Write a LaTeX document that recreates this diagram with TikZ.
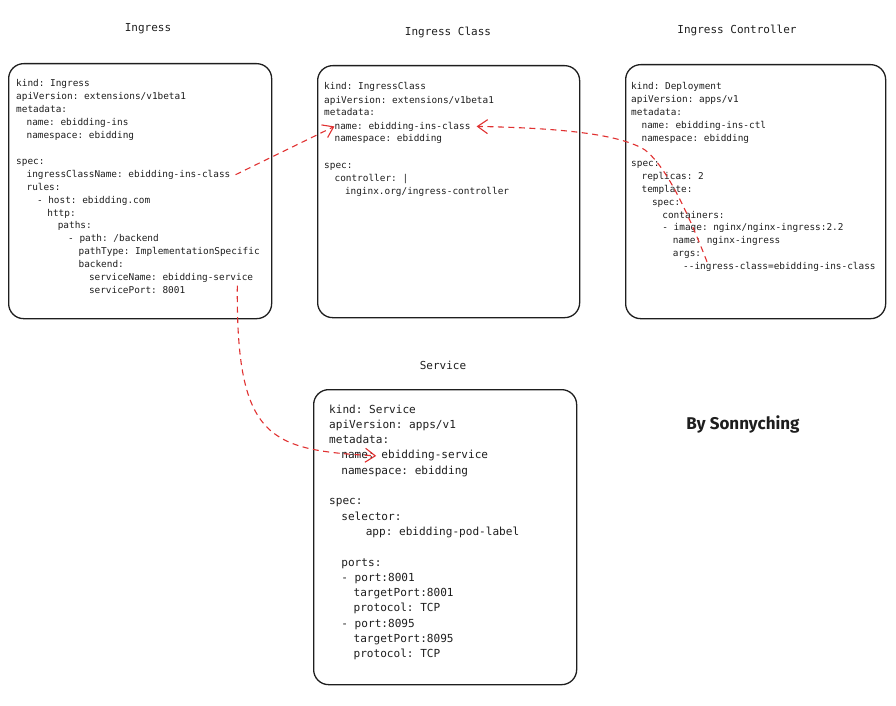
\documentclass[tikz,border=0pt]{standalone}
\usepackage{fontspec}
\setmonofont{DejaVu Sans Mono}
\newfontfamily\signfont{Fira Sans}
\usetikzlibrary{arrows.meta}
\definecolor{ink}{HTML}{1E1E1E}
\definecolor{lred}{HTML}{E03131}
\tikzset{
  box/.style={draw=ink, line width=1.3pt, rounded corners=15pt, anchor=north west, inner sep=0pt},
  code/.style={font=\ttfamily\fontsize{9.4}{11}\selectfont, text=ink, inner sep=0pt, anchor=base west},
  scode/.style={font=\ttfamily\fontsize{11.08}{13}\selectfont, text=ink, inner sep=0pt, anchor=base west},
  ttl/.style={font=\ttfamily\fontsize{11}{13}\selectfont, text=ink, inner sep=0pt},
  link/.style={draw=lred, line width=1.1pt, dash pattern=on 6pt off 4.5pt,
    -{Straight Barb[length=10pt,width=14pt,line width=1.1pt]}},
}
\begin{document}
\begin{tikzpicture}[x=1pt,y=-1pt]
\useasboundingbox (0,0) rectangle (896,706);
% titles
\node[ttl] (t1) at (148,29) {Ingress};
\node[ttl] (t2) at (448,32) {Ingress Class};
\node[ttl] (t3) at (737,30) {Ingress Controller};
\node[ttl] (t4) at (443,365) {Service};
\node[font=\signfont\bfseries\fontsize{17}{20}\selectfont, text=ink] (sign) at (743,424) {By Sonnyching};
% boxes
\node[box, minimum width=263pt, minimum height=255pt] (ingbox) at (8,63) {};
\node[box, minimum width=262pt, minimum height=252pt] (clsbox) at (317,65) {};
\node[box, minimum width=260pt, minimum height=254pt] (ctlbox) at (625,64) {};
\node[box, minimum width=263pt, minimum height=295pt] (svcbox) at (313,389) {};
% Ingress text
\foreach \r/\k/\t in {1/0/{kind: Ingress},2/0/{apiVersion: extensions/v1beta1},3/0/{metadata:},
  4/1/{name: ebidding-ins},5/1/{namespace: ebidding},7/0/{spec:},
  8/1/{ingressClassName: ebidding-ins-class},9/1/{rules:},10/2/{- host: ebidding.com},
  11/3/{http:},12/4/{paths:},13/5/{- path: /backend},14/6/{pathType: ImplementationSpecific},
  15/6/{backend:},16/7/{serviceName: ebidding-service},17/7/{servicePort: 8001}}
  \node[code] (ig\r) at ({16+\k*10.4},{87+(\r-1)*12.9}) {\t};
% Ingress Class text
\foreach \r/\k/\t in {1/0/{kind: IngressClass},2/0/{apiVersion: extensions/v1beta1},3/0/{metadata:},
  4/1/{name: ebidding-ins-class},5/1/{namespace: ebidding},7/0/{spec:},
  8/1/{controller: |},9/2/{inginx.org/ingress-controller}}
  \node[code] (cl\r) at ({324+\k*10.4},{90+(\r-1)*13}) {\t};
% Ingress Controller text
\foreach \r/\k/\t in {1/0/{kind: Deployment},2/0/{apiVersion: apps/v1},3/0/{metadata:},
  4/1/{name: ebidding-ins-ctl},5/1/{namespace: ebidding},7/0/{spec:},
  8/1/{replicas: 2},9/1/{template:},10/2/{spec:},11/3/{containers:},
  12/3/{- image: nginx/nginx-ingress:2.2},13/4/{name: nginx-ingress},14/4/{args:},
  15/5/{{-}{-}ingress-class=ebidding-ins-class}}
  \node[code] (ct\r) at ({631+\k*10.4},{90+(\r-1)*12.8}) {\t};
% Service text
\foreach \r/\k/\t in {1/0/{kind: Service},2/0/{apiVersion: apps/v1},3/0/{metadata:},
  4/1/{name: ebidding-service},5/1/{namespace: ebidding},7/0/{spec:},
  8/1/{selector:},9/3/{app: ebidding-pod-label},11/1/{ports:},
  12/1/{- port:8001},13/2/{targetPort:8001},14/2/{protocol: TCP},
  15/1/{- port:8095},16/2/{targetPort:8095},17/2/{protocol: TCP}}
  \node[scode] (sv\r) at ({329+\k*12.2},{413+(\r-1)*15.3}) {\t};
% connectors
\coordinate (a1s) at ([xshift=5pt]ig8.east);
\draw[link] (a1s) -- (cl4.west);
\coordinate (a2s) at ([xshift=24pt]ct15.north west);
\coordinate (a2m) at (645,150);
\draw[link] (a2s) .. controls (690,218) and (668,168) .. (a2m)
  .. controls (620,134) and (560,128) .. ([xshift=6pt]cl4.east);
\coordinate (a3s) at ([xshift=-16pt,yshift=-3pt]ig16.south east);
\draw[link] (a3s) .. controls (236,440) and (270,450) .. ([xshift=35pt]sv4.west);
\end{tikzpicture}
\end{document}
